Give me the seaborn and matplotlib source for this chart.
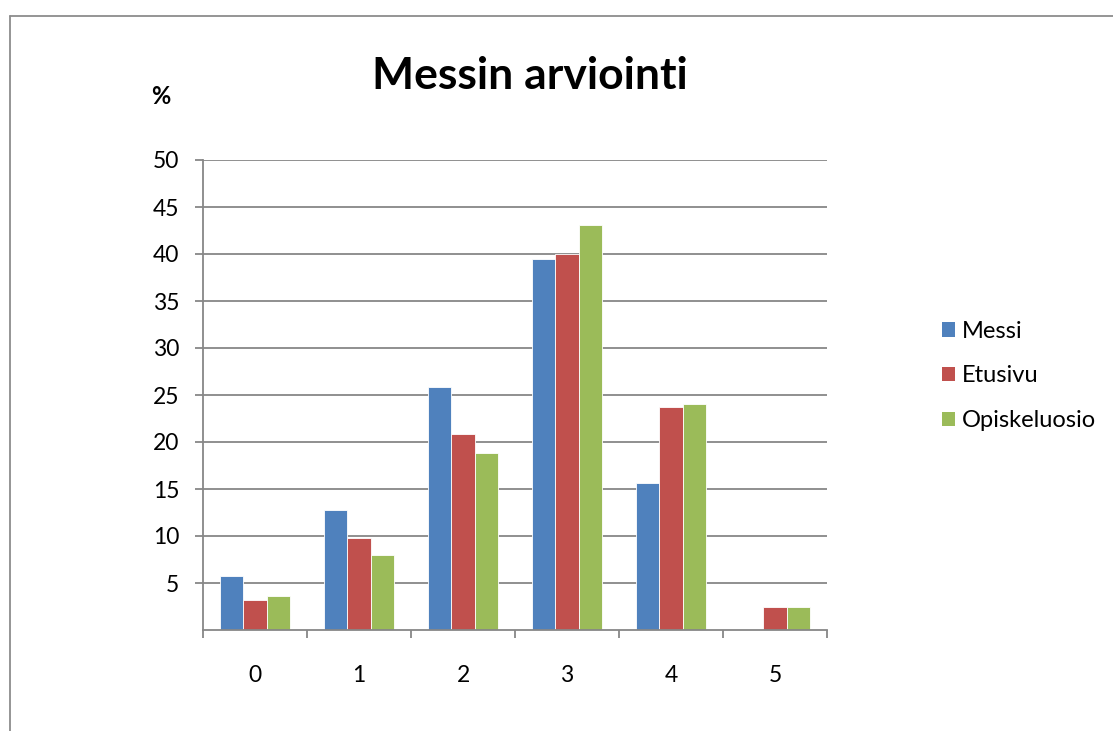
import matplotlib
matplotlib.use("Agg")
import matplotlib.pyplot as plt
from matplotlib.lines import Line2D
from matplotlib.patches import Patch
import numpy as np
import pandas as pd
import seaborn as sns

# Ratings 0-5 and the share (%) of answers per page
categories = ["0", "1", "2", "3", "4", "5"]
messi = [5.7, 12.8, 25.9, 39.5, 15.6, 0.0]
etusivu = [3.2, 9.8, 20.8, 40.0, 23.7, 2.5]
opiskeluosio = [3.6, 8.0, 18.8, 43.1, 24.0, 2.4]
series_names = ["Messi", "Etusivu", "Opiskeluosio"]
colors = ["#4F81BD", "#C0504D", "#9BBB59"]
y_ticks = [5, 10, 15, 20, 25, 30, 35, 40, 45, 50]

df = pd.DataFrame({
    "arvio": categories * 3,
    "osuus": messi + etusivu + opiskeluosio,
    "sarja": [s for s in series_names for _ in categories],
})

sns.set_theme(style="white")
plt.rcParams["font.family"] = ["Lato", "DejaVu Sans"]
plt.rcParams["text.color"] = "black"

fig = plt.figure(figsize=(11.13, 7.31), dpi=100)
ax = fig.add_axes([203 / 1113, 1 - 630 / 731, 624 / 1113, 470 / 731])

grid_col = "#878787"
sns.barplot(data=df, x="arvio", y="osuus", hue="sarja", order=categories,
            hue_order=series_names, palette=colors, width=0.67,
            saturation=1, edgecolor="white", linewidth=0.6, ax=ax, legend=False)

ax.set_xlim(-0.5, len(categories) - 0.5)
ax.set_ylim(0, 50)
ax.set_yticks(y_ticks)
ax.yaxis.grid(True, color=grid_col, linewidth=1.3)
ax.set_axisbelow(True)
ax.set_xlabel("")
ax.set_ylabel("")

for side in ("top", "right"):
    ax.spines[side].set_visible(False)
for side in ("left", "bottom"):
    ax.spines[side].set_color(grid_col)
    ax.spines[side].set_linewidth(1.3)

tick_size = 16.5
ax.tick_params(axis="y", which="major", left=True, length=6, width=1.3,
               color=grid_col, pad=11, labelsize=tick_size, labelcolor="black")
ax.tick_params(axis="x", which="major", bottom=False, length=0, pad=25,
               labelsize=tick_size, labelcolor="black")
ax.set_xticks(np.arange(-0.5, len(categories)), minor=True)
ax.tick_params(axis="x", which="minor", bottom=True, length=6, width=1.3,
               color=grid_col)

fig.text(530 / 1113, 1 - 76 / 731, "Messin arviointi", ha="center", va="center",
         fontsize=32, fontweight="bold", color="black")
fig.text(161 / 1113, 1 - 97 / 731, "%", ha="center", va="center",
         fontsize=17, fontweight="bold", color="black")

handles = [Patch(facecolor=c, edgecolor="none", label=n)
           for c, n in zip(colors, series_names)]
fig.legend(handles=handles, loc="center left",
           bbox_to_anchor=(921 / 1113, 1 - 376 / 731), frameon=False,
           fontsize=17, handlelength=0.55, handleheight=0.55,
           handletextpad=0.3, labelspacing=1.0, labelcolor="black")

# outer chart frame
frame_col = "#8c8c8c"
fig.add_artist(Line2D([10 / 1113, 10 / 1113], [0, 1 - 16 / 731],
                      transform=fig.transFigure, color=frame_col, linewidth=1.3))
fig.add_artist(Line2D([10 / 1113, 1], [1 - 16 / 731, 1 - 16 / 731],
                      transform=fig.transFigure, color=frame_col, linewidth=1.3))

fig.savefig("out.png", dpi=100)
